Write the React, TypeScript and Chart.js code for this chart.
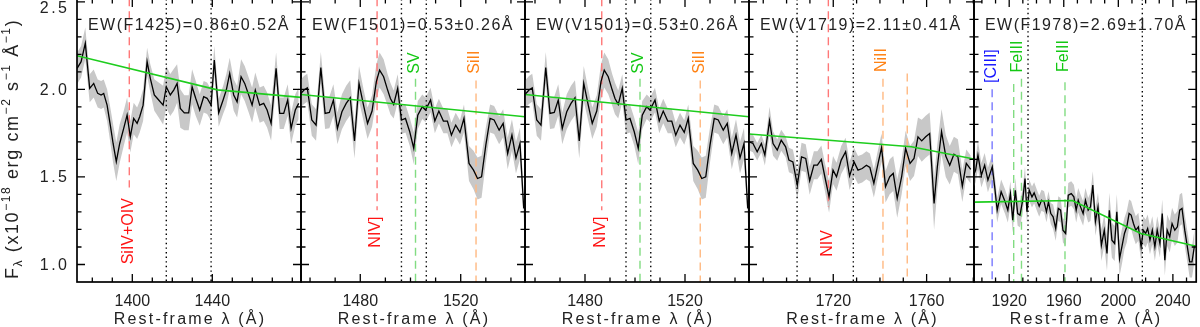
import React, { useEffect, useRef } from "react";
import { Chart, registerables } from "chart.js";

Chart.register(...registerables);

const FONT = "'Liberation Sans', Arial, sans-serif";

// ---------- Panel 1 : F1425 ----------
const P1_WAVE = [1372.4,1374.4,1376.5,1378.7,1380.7,1382.7,1384.4,1385.7,1387.4,1389.0,1390.4,1392.0,1393.7,1395.7,1397.4,1399.0,1400.7,1402.4,1403.7,1405.4,1407.4,1409.0,1411.0,1413.2,1415.4,1417.0,1419.0,1420.7,1422.4,1424.0,1426.0,1428.2,1429.9,1431.7,1433.7,1435.7,1437.4,1439.4,1441.0,1443.2,1445.4,1447.0,1448.7,1450.7,1452.4,1454.4,1456.2,1458.2,1459.9,1461.5,1463.7,1465.7,1467.4,1469.4,1471.9,1473.7,1475.7,1477.7,1479.4,1481.5,1483.2];
const P1_FLUX = [2.120,2.158,2.263,2.006,2.034,1.977,1.968,1.977,1.910,1.796,1.691,1.587,1.691,1.777,1.853,1.729,1.834,1.806,1.844,1.910,2.158,2.063,1.968,1.939,1.910,2.015,1.968,1.996,2.034,1.891,1.866,1.866,2.015,1.949,1.882,1.958,1.949,1.910,2.167,1.866,1.939,1.996,2.091,1.968,1.929,2.072,2.034,1.968,1.910,1.996,1.910,1.920,1.882,1.806,2.120,1.863,1.863,1.939,1.777,1.882,1.920];
const P1_ERR = [0.09,0.09,0.09,0.08,0.08,0.08,0.08,0.08,0.09,0.10,0.11,0.11,0.11,0.10,0.10,0.09,0.09,0.09,0.09,0.09,0.08,0.08,0.09,0.10,0.11,0.12,0.12,0.12,0.11,0.11,0.10,0.10,0.10,0.10,0.09,0.09,0.09,0.09,0.08,0.08,0.08,0.09,0.09,0.09,0.09,0.10,0.10,0.10,0.10,0.10,0.10,0.10,0.10,0.10,0.09,0.09,0.09,0.09,0.09,0.09,0.09];
const P1_CONT_WAVE = [1372.35, 1442.5, 1484.35];
const P1_CONT_FLUX = [2.192, 1.997, 1.954];
const P1_XRANGE = [1372.35, 1484.35];
const P1_XTICKS = [1400, 1440];
const P1_EW = "EW(F1425)=0.86±0.52Å";
const P1_DOTTED = [1417.0, 1439.4];

// ---------- Panels 2 & 3 : 1501 (same spectrum) ----------
const P2_WAVE = [1456.0,1457.6,1458.9,1460.7,1462.4,1464.3,1466.0,1467.7,1469.3,1470.9,1472.7,1474.4,1476.0,1477.7,1479.5,1481.3,1482.9,1484.7,1486.4,1487.7,1489.3,1490.9,1492.0,1493.3,1494.9,1496.4,1498.0,1499.7,1501.3,1502.9,1504.7,1506.0,1508.0,1509.7,1511.3,1513.1,1514.7,1516.3,1518.0,1519.7,1521.3,1523.3,1525.1,1526.7,1528.3,1530.0,1531.7,1533.3,1535.3,1536.9,1538.7,1540.4,1542.0,1543.6,1545.1];
const P2_FLUX = [1.971,1.996,2.009,1.825,1.796,2.124,1.863,1.868,1.939,1.777,1.872,1.920,1.952,1.705,2.034,1.910,1.806,1.876,2.044,2.110,2.072,1.996,1.948,1.914,2.006,1.825,1.834,1.758,1.663,1.853,1.901,1.882,1.939,1.819,1.876,1.819,1.819,1.739,1.796,1.754,1.834,1.577,1.539,1.491,1.501,1.682,1.834,1.825,1.767,1.806,1.634,1.739,1.609,1.691,1.320];
const P2_ERR = [0.08,0.08,0.08,0.09,0.09,0.09,0.09,0.09,0.09,0.09,0.10,0.10,0.10,0.10,0.10,0.09,0.09,0.09,0.10,0.10,0.10,0.09,0.09,0.08,0.08,0.08,0.08,0.08,0.09,0.08,0.07,0.07,0.07,0.07,0.07,0.07,0.07,0.07,0.07,0.07,0.08,0.10,0.11,0.12,0.12,0.10,0.08,0.08,0.08,0.08,0.09,0.09,0.09,0.09,0.09];
const P2_CONT_WAVE = [1456.0, 1545.6];
const P2_CONT_FLUX = [1.971, 1.844];
const P2_XRANGE = [1456.4, 1545.6];
const P3_XRANGE = [1456.0, 1545.6];
const P2_XTICKS = [1480, 1520];
const P2_EW = "EW(F1501)=0.53±0.26Å";
const P3_EW = "EW(V1501)=0.53±0.26Å";
const P2_DOTTED = [1496.4, 1506.3];

// ---------- Panel 4 : V1719 ----------
const P4_WAVE = [1683.9,1685.6,1687.4,1689.2,1690.7,1692.7,1694.2,1696.0,1697.7,1699.6,1701.0,1702.7,1704.6,1706.4,1708.2,1709.9,1711.7,1713.2,1714.9,1716.4,1718.2,1719.9,1721.4,1723.4,1725.3,1727.0,1728.9,1730.6,1732.4,1734.2,1735.7,1737.4,1739.2,1740.7,1742.4,1744.2,1745.7,1747.4,1749.3,1751.0,1752.9,1754.6,1756.3,1757.9,1759.6,1761.3,1763.2,1764.6,1766.4,1768.2,1769.9,1771.7,1773.4,1775.3,1777.0,1778.9];
const P4_FLUX = [1.701,1.691,1.644,1.691,1.625,1.821,1.691,1.653,1.710,1.672,1.596,1.586,1.453,1.615,1.606,1.478,1.567,1.567,1.600,1.501,1.386,1.539,1.501,1.596,1.644,1.505,1.586,1.539,1.548,1.567,1.554,1.463,1.577,1.668,1.444,1.501,1.520,1.377,1.501,1.663,1.577,1.606,1.729,1.706,1.729,1.748,1.348,1.558,1.758,1.619,1.567,1.630,1.615,1.447,1.577,1.543];
const P4_ERR = [0.05,0.05,0.05,0.05,0.06,0.08,0.07,0.06,0.06,0.06,0.07,0.07,0.08,0.08,0.08,0.08,0.08,0.08,0.08,0.08,0.09,0.08,0.08,0.08,0.08,0.08,0.08,0.08,0.08,0.08,0.08,0.08,0.08,0.08,0.09,0.10,0.10,0.11,0.10,0.10,0.10,0.10,0.11,0.12,0.12,0.12,0.15,0.13,0.13,0.12,0.11,0.10,0.10,0.09,0.08,0.08];
const P4_CONT_WAVE = [1683.9, 1753.5, 1780.3];
const P4_CONT_FLUX = [1.745, 1.672, 1.602];
const P4_XRANGE = [1683.9, 1780.3];
const P4_XTICKS = [1720, 1760];
const P4_EW = "EW(V1719)=2.11±0.41Å";
const P4_DOTTED = [1704.5, 1728.6];

// ---------- Panel 5 : F1978 ----------
const P5_WAVE = [1893.5,1895.4,1897.1,1899.6,1902.0,1904.4,1907.6,1909.5,1911.2,1914.1,1917.0,1919.0,1920.9,1922.6,1924.5,1926.2,1927.9,1929.9,1931.6,1933.0,1934.7,1936.7,1938.3,1940.3,1942.0,1943.7,1945.6,1947.3,1948.8,1950.5,1952.2,1954.1,1956.0,1957.7,1959.4,1961.4,1963.3,1965.5,1967.4,1969.1,1970.6,1972.3,1974.2,1975.9,1977.9,1979.6,1981.3,1983.2,1985.1,1987.6,1989.7,1991.7,1993.4,1995.3,1997.3,1998.9,2000.9,2002.6,2004.5,2006.2,2007.9,2009.4,2011.1,2012.8,2014.7,2016.7,2018.3,2020.0,2021.5,2023.2,2024.9,2026.8,2028.5,2030.5,2032.2,2034.1,2035.8,2037.7,2039.4,2041.4,2043.3,2045.0,2046.7,2048.7,2050.6,2052.3,2054.0,2055.9];
const P5_FLUX = [1.501,1.539,1.625,1.510,1.567,1.482,1.558,1.434,1.310,1.415,1.358,1.310,1.405,1.253,1.424,1.291,1.282,1.367,1.491,1.301,1.424,1.386,1.409,1.367,1.333,1.367,1.358,1.301,1.358,1.291,1.272,1.206,1.320,1.310,1.196,1.177,1.396,1.405,1.386,1.310,1.367,1.329,1.291,1.367,1.310,1.329,1.453,1.244,1.329,1.110,1.196,1.063,1.310,1.139,1.120,1.301,1.034,1.101,1.177,1.215,1.291,1.282,1.234,1.196,1.215,1.101,1.196,1.177,1.206,1.139,1.196,1.101,1.196,1.120,1.291,1.025,1.196,1.158,1.234,1.196,1.215,1.310,1.320,1.196,1.101,1.015,1.015,1.110];
const P5_ERR = [0.07,0.07,0.08,0.07,0.07,0.07,0.07,0.07,0.07,0.07,0.07,0.07,0.07,0.07,0.07,0.07,0.07,0.07,0.07,0.06,0.06,0.06,0.06,0.06,0.06,0.06,0.06,0.06,0.06,0.06,0.07,0.07,0.07,0.07,0.07,0.07,0.07,0.07,0.07,0.07,0.07,0.07,0.07,0.07,0.07,0.08,0.08,0.08,0.08,0.09,0.09,0.10,0.10,0.10,0.10,0.10,0.10,0.10,0.09,0.09,0.08,0.08,0.08,0.08,0.08,0.08,0.08,0.08,0.08,0.08,0.08,0.08,0.08,0.08,0.08,0.09,0.09,0.09,0.09,0.09,0.09,0.09,0.09,0.09,0.09,0.09,0.09,0.09];
const P5_CONT_WAVE = [1893.5, 1966.3, 2016.5, 2057.1];
const P5_CONT_FLUX = [1.356, 1.365, 1.177, 1.104];
const P5_XRANGE = [1894.2, 2057.1];
const P5_XTICKS = [1920, 1960, 2000, 2040];
const P5_EW = "EW(F1978)=2.69±1.70Å";
const P5_DOTTED = [1933.8, 2017.6];

// ---------- line identifications ----------
const P1_IDS = [{ wave: 1398.5, label: "SiIV+OIV", color: "red", from: 2.52, to: 1.44, labelAt: 1.19 }];
const P2_IDS = [
  { wave: 1486.7, label: "NIV]", color: "red", from: 2.52, to: 1.31, labelAt: 1.185 },
  { wave: 1502.0, label: "SV", color: "green", from: 2.06, to: 0.9, labelAt: 2.15 },
  { wave: 1526.1, label: "SiII", color: "orange", from: 2.05, to: 0.9, labelAt: 2.155 },
];
const P4_IDS = [
  { wave: 1717.9, label: "NIV", color: "red", from: 2.52, to: 1.33, labelAt: 1.12 },
  { wave: 1741.3, label: "NiII", color: "orange", from: 2.06, to: 0.9, labelAt: 2.167 },
  { wave: 1751.7, label: "", color: "orange", from: 2.09, to: 0.9, labelAt: 0 },
];
const P5_IDS = [
  { wave: 1907.5, label: "[CIII]", color: "blue", from: 2.0, to: 0.9, labelAt: 2.133 },
  { wave: 1923.3, label: "", color: "green", from: 2.03, to: 0.9, labelAt: 0 },
  { wave: 1929.0, label: "", color: "green", from: 2.06, to: 0.9, labelAt: 0 },
  { wave: 1960.9, label: "FeIII", color: "green", from: 2.04, to: 0.9, labelAt: 2.19 },
];
const P5_EXTRA_LABELS = [{ wave: 1926.6, label: "FeIII", color: "green", labelAt: 2.187 }];

const Y_RANGE = [0.9, 2.516];
const Y_TICKS = [1.0, 1.5, 2.0, 2.5];
const Y_TICK_LABELS = ["1.0", "1.5", "2.0", "2.5"];
const X_TITLE = "Rest-frame λ (Å)";

const ID_COLORS: Record<string, { dash: string; text: string }> = {
  red: { dash: "rgb(255,120,120)", text: "rgb(255,20,20)" },
  green: { dash: "rgb(130,220,130)", text: "rgb(20,200,20)" },
  orange: { dash: "rgb(255,185,130)", text: "rgb(255,130,20)" },
  blue: { dash: "rgb(120,120,255)", text: "rgb(20,20,255)" },
};

const EDGES = [77, 301, 525, 749, 974, 1198];

type PanelDef = {
  wave: number[]; flux: number[]; err: number[];
  contW: number[]; contF: number[];
  xr: number[]; xticks: number[]; ew: string; dotted: number[];
  ids: any[]; extra?: any[];
};

const PANELS: PanelDef[] = [
  { wave: P1_WAVE, flux: P1_FLUX, err: P1_ERR, contW: P1_CONT_WAVE, contF: P1_CONT_FLUX, xr: P1_XRANGE, xticks: P1_XTICKS, ew: P1_EW, dotted: P1_DOTTED, ids: P1_IDS },
  { wave: P2_WAVE, flux: P2_FLUX, err: P2_ERR, contW: P2_CONT_WAVE, contF: P2_CONT_FLUX, xr: P2_XRANGE, xticks: P2_XTICKS, ew: P2_EW, dotted: P2_DOTTED, ids: P2_IDS },
  { wave: P2_WAVE, flux: P2_FLUX, err: P2_ERR, contW: P2_CONT_WAVE, contF: P2_CONT_FLUX, xr: P3_XRANGE, xticks: P2_XTICKS, ew: P3_EW, dotted: P2_DOTTED, ids: P2_IDS },
  { wave: P4_WAVE, flux: P4_FLUX, err: P4_ERR, contW: P4_CONT_WAVE, contF: P4_CONT_FLUX, xr: P4_XRANGE, xticks: P4_XTICKS, ew: P4_EW, dotted: P4_DOTTED, ids: P4_IDS },
  { wave: P5_WAVE, flux: P5_FLUX, err: P5_ERR, contW: P5_CONT_WAVE, contF: P5_CONT_FLUX, xr: P5_XRANGE, xticks: P5_XTICKS, ew: P5_EW, dotted: P5_DOTTED, ids: P5_IDS, extra: P5_EXTRA_LABELS },
];

const CANVAS_H = 328;
const AXIS_H = 45;

function rotText(ctx: CanvasRenderingContext2D, text: string, x: number, y: number) {
  ctx.save();
  ctx.translate(x, y);
  ctx.rotate(-Math.PI / 2);
  ctx.textAlign = "center";
  ctx.textBaseline = "middle";
  ctx.fillText(text, 0, 0);
  ctx.restore();
}

function makePlugin(p: PanelDef, index: number) {
  return {
    id: "deco" + index,
    afterDraw(chart: any) {
      const ctx: CanvasRenderingContext2D = chart.ctx;
      const a = chart.chartArea;
      const xs = chart.scales.x;
      const ys = chart.scales.y;
      ctx.save();
      // inward ticks
      ctx.strokeStyle = "#000";
      ctx.lineWidth = 1.3;
      ctx.beginPath();
      for (let k = 10; k <= 25; k++) {
        const y = ys.getPixelForValue(k / 10);
        const L = k % 5 === 0 ? 8 : 4.5;
        ctx.moveTo(a.left, y); ctx.lineTo(a.left + L, y);
        ctx.moveTo(a.right, y); ctx.lineTo(a.right - L, y);
      }
      for (let v = Math.ceil(xs.min / 10) * 10; v <= xs.max; v += 10) {
        const x = xs.getPixelForValue(v);
        const L = p.xticks.includes(v) ? 8 : 4.5;
        ctx.moveTo(x, a.bottom); ctx.lineTo(x, a.bottom - L);
        ctx.moveTo(x, a.top); ctx.lineTo(x, a.top + L);
      }
      ctx.stroke();
      // frame
      ctx.lineWidth = 1.7;
      ctx.strokeRect(a.left, a.top, a.right - a.left, a.bottom - a.top);

      // line id labels
      ctx.font = `16px ${FONT}`;
      const labs = [...p.ids, ...(p.extra || [])];
      for (const m of labs) {
        if (!m.label) continue;
        ctx.fillStyle = ID_COLORS[m.color].text;
        rotText(ctx, m.label, xs.getPixelForValue(m.wave) - 1, ys.getPixelForValue(m.labelAt));
      }

      // EW label
      ctx.fillStyle = "#222";
      ctx.textAlign = "left";
      ctx.textBaseline = "alphabetic";
      (ctx as any).letterSpacing = "1.45px";
      ctx.fillText(p.ew, a.left + 11, a.top + 31);

      // x title
      (ctx as any).letterSpacing = "2.2px";
      ctx.textAlign = "center";
      ctx.fillText(X_TITLE, (a.left + a.right) / 2 + 1, a.bottom + 41.5);

      if (index === 0) {
        // y tick labels
        (ctx as any).letterSpacing = "2.5px";
        ctx.textAlign = "right";
        ctx.textBaseline = "middle";
        Y_TICKS.forEach((v, i) => {
          const y = Math.max(ys.getPixelForValue(v), 8.5);
          ctx.fillText(Y_TICK_LABELS[i], a.left - 10 + 2.5, y + 1);
        });
        // y title
        (ctx as any).letterSpacing = "1.6px";
        ctx.textAlign = "left";
        ctx.textBaseline = "alphabetic";
        const parts = [
          { t: "F", s: 18, dy: 0 },
          { t: "λ", s: 12, dy: 4 },
          { t: " (x10", s: 18, dy: 0 },
          { t: "−18", s: 12, dy: -8 },
          { t: " erg cm", s: 18, dy: 0 },
          { t: "−2", s: 12, dy: -8 },
          { t: " s", s: 18, dy: 0 },
          { t: "−1", s: 12, dy: -8 },
          { t: " Å", s: 18, dy: 0 },
          { t: "−1", s: 12, dy: -8 },
          { t: ")", s: 18, dy: 0 },
        ];
        ctx.save();
        ctx.translate(18, 280);
        ctx.rotate(-Math.PI / 2);
        let cx = 0;
        for (const q of parts) {
          ctx.font = `${q.s}px ${FONT}`;
          ctx.fillText(q.t, cx, q.dy);
          cx += ctx.measureText(q.t).width;
        }
        ctx.restore();
      }
      ctx.restore();
    },
  };
}

function buildConfig(p: PanelDef, index: number): any {
  const upper = p.wave.map((w, i) => ({ x: w, y: p.flux[i] + p.err[i] }));
  const lower = p.wave.map((w, i) => ({ x: w, y: p.flux[i] - p.err[i] }));
  const spec = p.wave.map((w, i) => ({ x: w, y: p.flux[i] }));
  const cont = p.contW.map((w, i) => ({ x: w, y: p.contF[i] }));
  const base = { pointRadius: 0, pointHoverRadius: 0, tension: 0, fill: false };
  const datasets: any[] = [
    { ...base, data: cont, borderColor: "rgb(30,205,30)", borderWidth: 1.6, order: 0 },
    { ...base, data: spec, borderColor: "#000", borderWidth: 1.3, order: 1 },
  ];
  for (const m of p.ids) {
    datasets.push({
      ...base,
      data: [{ x: m.wave, y: m.from }, { x: m.wave, y: m.to }],
      borderColor: ID_COLORS[m.color].dash,
      borderWidth: 1.4,
      borderDash: [8, 5],
      order: 2,
    });
  }
  for (const w of p.dotted) {
    datasets.push({
      ...base,
      data: [{ x: w, y: Y_RANGE[1] }, { x: w, y: Y_RANGE[0] }],
      borderColor: "#000",
      borderWidth: 1.4,
      borderDash: [1.4, 3.2],
      order: 2,
    });
  }
  datasets.push({ ...base, data: upper, borderWidth: 0, borderColor: "rgba(0,0,0,0)", order: 3 });
  datasets.push({ ...base, data: lower, borderWidth: 0, borderColor: "rgba(0,0,0,0)", fill: "-1", backgroundColor: "rgb(200,200,200)", order: 3 });

  const padL = index === 0 ? EDGES[0] : 3;
  return {
    type: "line",
    data: { datasets },
    options: {
      animation: false,
      responsive: false,
      maintainAspectRatio: false,
      events: [],
      layout: { padding: { left: padL, right: 3, top: 0, bottom: 0 } },
      plugins: { legend: { display: false }, tooltip: { enabled: false }, title: { display: false } },
      scales: {
        x: {
          type: "linear",
          min: p.xr[0],
          max: p.xr[1],
          afterBuildTicks: (s: any) => { s.ticks = p.xticks.map((v) => ({ value: v })); },
          afterFit: (s: any) => { s.height = AXIS_H; },
          grid: { display: false, drawTicks: false },
          border: { display: false },
          ticks: {
            font: { family: FONT, size: 16 },
            color: "#222",
            padding: 10,
            maxRotation: 0,
            autoSkip: false,
            callback: (v: any) => String(v),
          },
        },
        y: { type: "linear", min: Y_RANGE[0], max: Y_RANGE[1], display: false },
      },
    },
    plugins: [makePlugin(p, index)],
  };
}

function Panel({ index }: { index: number }) {
  const ref = useRef<HTMLCanvasElement>(null);
  const L = EDGES[index];
  const R = EDGES[index + 1];
  const padL = index === 0 ? EDGES[0] : 3;
  const left = L - padL;
  const width = R - L + padL + 3;
  useEffect(() => {
    const chart = new Chart(ref.current as HTMLCanvasElement, buildConfig(PANELS[index], index));
    return () => chart.destroy();
  }, [index]);
  return (
    <canvas
      ref={ref}
      width={width}
      height={CANVAS_H}
      style={{ position: "absolute", left, top: -1, width, height: CANVAS_H }}
    />
  );
}

export default function App() {
  useEffect(() => {
    document.body.style.margin = "0";
  }, []);
  return (
    <div style={{ position: "relative", width: 1200, height: 327, overflow: "hidden", background: "#fff" }}>
      <style>{`body{margin:0}`}</style>
      {PANELS.map((_, i) => (
        <Panel key={i} index={i} />
      ))}
    </div>
  );
}
